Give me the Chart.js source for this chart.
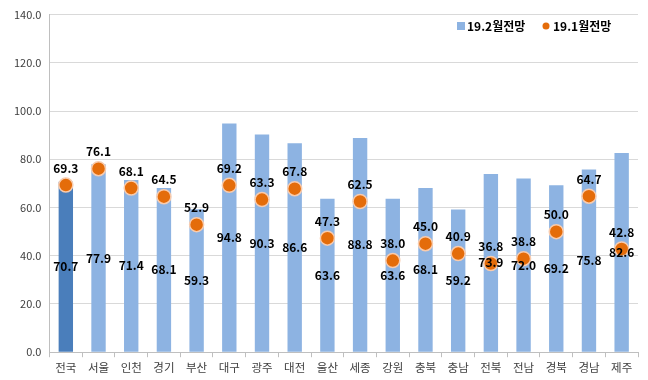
<!DOCTYPE html>
<html>
<head>
<meta charset="utf-8">
<script src="https://cdn.jsdelivr.net/npm/chart.js@4/dist/chart.umd.min.js"></script>
<style>
html,body{margin:0;padding:0;background:#fff;}
#wrap{width:648px;height:380px;position:relative;}
</style>
</head>
<body>
<div id="wrap"><canvas id="c" width="648" height="380"></canvas></div>
<script>
const categories = ['전국','서울','인천','경기','부산','대구','광주','대전','울산','세종','강원','충북','충남','전북','전남','경북','경남','제주'];
const feb19 = [70.7,77.9,71.4,68.1,59.3,94.8,90.3,86.6,63.6,88.8,63.6,68.1,59.2,73.9,72.0,69.2,75.8,82.6];
const jan19 = [69.3,76.1,68.1,64.5,52.9,69.2,63.3,67.8,47.3,62.5,38.0,45.0,40.9,36.8,38.8,50.0,64.7,42.8];
const seriesNames = ['19.2월전망','19.1월전망'];
const yTicks = [0,20,40,60,80,100,120,140];

const FONT = "'Noto Sans CJK KR','Noto Sans',sans-serif";
const barLight = '#8DB3E2';
const barDark = '#4A7EBB';
const orange = '#E46C0A';

const labelPlugin = {
  id: 'labels',
  afterDatasetsDraw(chart) {
    const ctx = chart.ctx;
    ctx.save();
    ctx.font = "bold 12px " + FONT;
    ctx.fillStyle = '#000';
    ctx.textAlign = 'center';
    ctx.textBaseline = 'middle';
    const barMeta = chart.getDatasetMeta(0);
    barMeta.data.forEach((el, i) => {
      const p = el.getProps(['x','y','base'], true);
      ctx.fillText(feb19[i].toFixed(1), p.x, (p.y + p.base) / 2);
    });
    const ptMeta = chart.getDatasetMeta(1);
    ptMeta.data.forEach((el, i) => {
      const p = el.getProps(['x','y'], true);
      ctx.fillText(jan19[i].toFixed(1), p.x, p.y - 17);
    });
    // legend
    const ly = 26;
    ctx.font = "bold 12px " + FONT;
    ctx.textAlign = 'left';
    ctx.fillStyle = barLight;
    ctx.fillRect(457, ly - 4, 8, 8);
    ctx.fillStyle = '#000';
    ctx.fillText(seriesNames[0], 467, ly);
    ctx.fillStyle = orange;
    ctx.beginPath();
    ctx.arc(546, ly, 3.5, 0, Math.PI * 2);
    ctx.fill();
    ctx.fillStyle = '#000';
    ctx.fillText(seriesNames[1], 553, ly);
    ctx.restore();
  }
};

new Chart(document.getElementById('c'), {
  data: {
    labels: categories,
    datasets: [
      {
        type: 'bar',
        label: seriesNames[0],
        data: feb19,
        backgroundColor: feb19.map((v, i) => i === 0 ? barDark : barLight),
        barPercentage: 0.44,
        categoryPercentage: 1,
        order: 1
      },
      {
        type: 'line',
        label: seriesNames[1],
        data: jan19,
        showLine: false,
        pointRadius: 7,
        pointHoverRadius: 7,
        pointBackgroundColor: orange,
        pointBorderColor: '#F8CBAD',
        pointBorderWidth: 1.5,
        order: 0
      }
    ]
  },
  options: {
    responsive: false,
    animation: false,
    devicePixelRatio: 1,
    layout: { padding: { left: 6, right: 10, top: 7, bottom: 1 } },
    plugins: {
      legend: { display: false },
      tooltip: { enabled: false }
    },
    scales: {
      x: {
        offset: true,
        grid: { display: true, drawOnChartArea: false, offset: true, tickLength: 5, color: '#BFBFBF' },
        border: { display: true, color: '#BFBFBF' },
        ticks: { color: '#404040', font: { family: FONT, size: 11.5 }, padding: 4, maxRotation: 0, autoSkip: false }
      },
      y: {
        min: 0,
        max: 140,
        afterBuildTicks(scale) { scale.ticks = yTicks.map(v => ({ value: v })); },
        grid: { color: '#D9D9D9', drawTicks: false },
        border: { display: true, color: '#BFBFBF' },
        ticks: { color: '#404040', font: { family: FONT, size: 11 }, padding: 8, callback: v => Number(v).toFixed(1) }
      }
    }
  },
  plugins: [labelPlugin]
});
</script>
</body>
</html>
